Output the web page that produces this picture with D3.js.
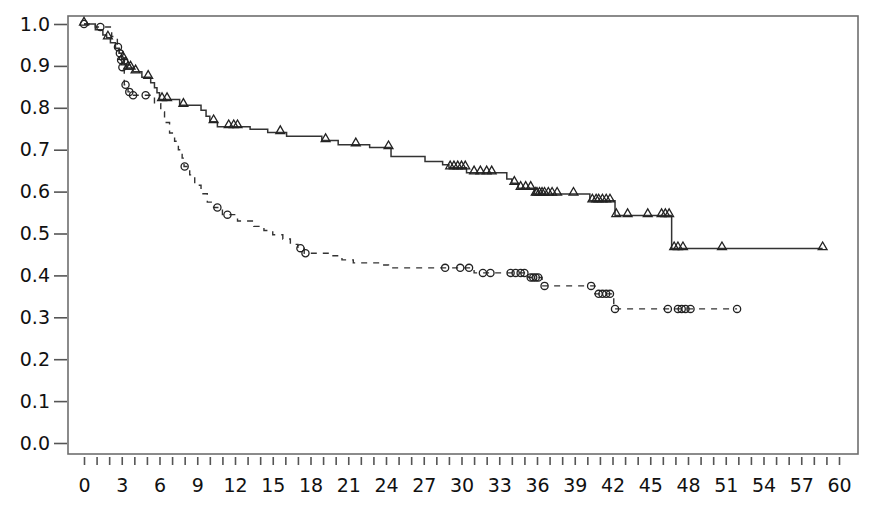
<!DOCTYPE html>
<html>
	<head>
		<title>Survival curves</title>
		<style>
			body,html
			{
				margin:0px;
				background:#fff;
			}
			text
			{
				font-family:"DejaVu Sans", Verdana, sans-serif;
			}
		</style>
		<script src='https://cdn.jsdelivr.net/npm/d3@7/dist/d3.min.js'></script>
	</head>
	<body>
	<svg width='877' height='511'></svg>
	<script>

		// solid curve (triangles): step times and survival after each drop
		var solidTimes = [0.9, 1.5, 1.8, 2.1, 2.5, 2.8, 3.0, 3.2, 3.4, 3.9, 4.6, 5.3, 5.6, 5.8, 6.0, 7.6, 9.3, 9.7, 10.0, 10.6, 13.2, 14.6, 16.1, 18.9, 20.2, 22.7, 24.4, 27.1, 28.5, 29.0, 30.4, 33.6, 34.0, 34.5, 35.8, 40.2, 42.2, 46.7];
		var solidSurv = [0.986, 0.974, 0.967, 0.955, 0.942, 0.93, 0.918, 0.905, 0.895, 0.886, 0.873, 0.86, 0.848, 0.836, 0.82, 0.806, 0.794, 0.78, 0.767, 0.755, 0.749, 0.741, 0.732, 0.722, 0.712, 0.705, 0.684, 0.672, 0.664, 0.657, 0.645, 0.63, 0.62, 0.608, 0.594, 0.578, 0.543, 0.464];
		var solidCensor = [0, 1.9, 3.1, 3.3, 3.5, 3.7, 4.1, 5.1, 6.2, 6.6, 7.9, 10.3, 11.5, 11.9, 12.2, 15.6, 19.2, 21.6, 24.2, 29.1, 29.4, 29.7, 30.0, 30.3, 31.0, 31.5, 32.0, 32.4, 34.2, 34.7, 35.1, 35.5, 35.9, 36.0, 36.2, 36.4, 36.6, 36.9, 37.2, 37.6, 38.9, 40.4, 40.7, 40.9, 41.2, 41.5, 41.8, 42.3, 43.2, 44.8, 45.9, 46.2, 46.5, 46.9, 47.2, 47.6, 50.7, 58.7];
		var solidEnd = 58.7;

		// dashed curve (circles)
		var dashTimes = [0.9, 2.2, 2.65, 2.8, 2.9, 3.0, 3.2, 3.5, 3.8, 5.6, 6.1, 6.4, 6.8, 7.2, 7.5, 7.8, 7.95, 8.4, 8.8, 9.3, 9.8, 10.3, 11.0, 12.2, 13.5, 14.3, 15.0, 15.8, 16.4, 17.0, 17.5, 19.5, 20.5, 21.4, 23.5, 24.2, 31.0, 35.3, 36.4, 40.6, 42.1];
		var dashSurv = [0.993, 0.97, 0.945, 0.93, 0.914, 0.897, 0.855, 0.838, 0.83, 0.81, 0.79, 0.765, 0.74, 0.72, 0.70, 0.68, 0.66, 0.64, 0.615, 0.595, 0.575, 0.562, 0.545, 0.53, 0.517, 0.507, 0.497, 0.487, 0.474, 0.465, 0.453, 0.447, 0.437, 0.43, 0.425, 0.418, 0.406, 0.395, 0.375, 0.356, 0.32];
		var dashCensor = [0, 1.3, 2.7, 2.85, 2.95, 3.05, 3.3, 3.6, 3.9, 4.9, 8.0, 10.6, 11.4, 17.2, 17.6, 28.7, 29.9, 30.6, 31.7, 32.3, 33.9, 34.3, 34.7, 35.0, 35.5, 35.7, 35.9, 36.1, 36.6, 40.3, 40.9, 41.2, 41.5, 41.8, 42.2, 46.4, 47.2, 47.5, 47.8, 48.2, 51.9];
		var dashEnd = 51.9;

		var xTicks = d3.range(0, 61, 1);
		var yTicks = [0, 0.1, 0.2, 0.3, 0.4, 0.5, 0.6, 0.7, 0.8, 0.9, 1.0];

		var svg = d3.select('svg');
		var x = d3.scaleLinear().domain([0, 60]).range([84, 839]);
		var y = d3.scaleLinear().domain([0, 1]).range([443, 24]);

		// plot frame
		svg.append('rect')
			.attr('x', 68).attr('y', 16)
			.attr('width', 790).attr('height', 438)
			.attr('fill', 'none')
			.attr('stroke', '#6e6e6e')
			.attr('stroke-width', 1.6);

		var xAxis = svg.append('g')
			.attr('transform', 'translate(0,457)')
			.call(d3.axisBottom(x).tickValues(xTicks).tickSize(8).tickPadding(14)
				.tickFormat(function(d){ return d % 3 == 0 ? d : ''; }));
		xAxis.select('.domain').remove();

		var yAxis = svg.append('g')
			.attr('transform', 'translate(67,0)')
			.call(d3.axisLeft(y).tickValues(yTicks).tickSize(13).tickPadding(4).tickFormat(d3.format('.1f')));
		yAxis.select('.domain').remove();

		svg.selectAll('.tick line').attr('stroke', '#555').attr('stroke-width', 1.6);
		svg.selectAll('.tick text').attr('fill', '#111').style('font-size', '19px')
			.style('font-family', '"DejaVu Sans", Verdana, sans-serif');

		function stepPoints(times, surv, end)
		{
			var pts = [[0, 1]];
			for(var i = 0; i < times.length; i++)
			{
				pts.push([times[i], surv[i]]);
			}
			pts.push([end, surv[surv.length - 1]]);
			return pts;
		}

		function survAt(times, surv, t)
		{
			var s = 1;
			for(var i = 0; i < times.length; i++)
			{
				if(times[i] <= t) s = surv[i];
			}
			return s;
		}

		var line = d3.line()
			.x(function(d){ return x(d[0]); })
			.y(function(d){ return y(d[1]); })
			.curve(d3.curveStepAfter);

		svg.append('path')
			.datum(stepPoints(dashTimes, dashSurv, dashEnd))
			.attr('d', line)
			.attr('fill', 'none')
			.attr('stroke', '#333')
			.attr('stroke-width', 1.4)
			.attr('stroke-dasharray', '6,6');

		svg.append('path')
			.datum(stepPoints(solidTimes, solidSurv, solidEnd))
			.attr('d', line)
			.attr('fill', 'none')
			.attr('stroke', '#333')
			.attr('stroke-width', 1.5);

		svg.selectAll('circle.cens')
			.data(dashCensor)
			.enter()
			.append('circle')
			.attr('class', 'cens')
			.attr('cx', function(d){ return x(d); })
			.attr('cy', function(d){ return y(survAt(dashTimes, dashSurv, d)); })
			.attr('r', 3.6)
			.attr('fill', 'none')
			.attr('stroke', '#222')
			.attr('stroke-width', 1.3);

		var tri = d3.symbol().type(d3.symbolTriangle).size(34);
		svg.selectAll('path.tri')
			.data(solidCensor)
			.enter()
			.append('path')
			.attr('class', 'tri')
			.attr('d', tri)
			.attr('transform', function(d){
				return 'translate(' + x(d) + ',' + (y(survAt(solidTimes, solidSurv, d)) - 1.5) + ')';
			})
			.attr('fill', 'none')
			.attr('stroke', '#222')
			.attr('stroke-width', 1.3);

	</script>
	</body>
</html>
